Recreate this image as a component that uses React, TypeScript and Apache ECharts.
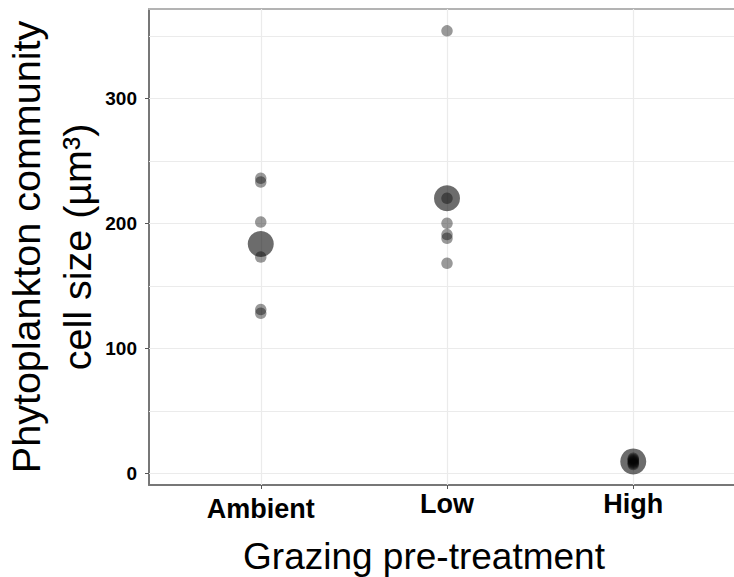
import React, { useEffect, useRef } from "react";
import * as echarts from "echarts";

// Data
const categories = ["Ambient", "Low", "High"];
const categoryPositions = [1, 2, 3];
const ambientValues = [236, 233, 201, 173, 131, 128];
const lowValues = [354, 220, 200, 191, 188, 168];
const highValues = [12, 11, 10, 9, 8, 7];
const meanValues = [183.5, 220, 9.5];
const yTickValues = [0, 100, 200, 300];
const yGridValues = [0, 50, 100, 150, 200, 250, 300, 350];

const xTitle = "Grazing pre-treatment";
const yTitle = "Phytoplankton community\ncell size (µm³)";

export default function App() {
  const ref = useRef<HTMLDivElement>(null);

  useEffect(() => {
    if (!ref.current) return;
    const chart = echarts.init(ref.current, undefined, { renderer: "svg" });

    const groups = [ambientValues, lowValues, highValues];
    const obsData: number[][] = [];
    groups.forEach((vals, i) => {
      vals.forEach((v) => obsData.push([categoryPositions[i], v]));
    });
    const meanData = meanValues.map((v, i) => [categoryPositions[i], v]);

    const gridLineData: any[] = [
      ...yGridValues.map((v) => ({ yAxis: v })),
      ...categoryPositions.map((v) => ({ xAxis: v })),
    ];

    const font = "Liberation Sans, Arial, Helvetica, sans-serif";

    chart.setOption({
      animation: false,
      grid: {
        show: false,
        left: 149,
        top: 9,
        width: 596,
        height: 476,
        outerBoundsMode: "none",
        containLabel: false,
      },
      xAxis: [
        {
          type: "value",
          min: 0.4,
          max: 3.6,
          position: "bottom",
          axisLine: { show: true, onZero: false, lineStyle: { color: "#777777", width: 2 } },
          axisTick: {
            show: true,
            customValues: categoryPositions,
            length: 4,
            lineStyle: { color: "#555555", width: 1 },
          },
          axisLabel: {
            customValues: categoryPositions,
            margin: 5,
            color: "#000000",
            fontFamily: font,
            fontWeight: "bold",
            fontSize: 27,
            formatter: (v: number) => {
              const idx = categoryPositions.indexOf(Math.round(v));
              const name = idx >= 0 ? categories[idx] : "";
              return idx === 0 ? "{low|" + name + "}" : "{n|" + name + "}";
            },
            rich: {
              low: { fontFamily: font, fontWeight: "bold", fontSize: 27, color: "#000", padding: [5, 0, 0, 0] },
              n: { fontFamily: font, fontWeight: "bold", fontSize: 27, color: "#000" },
            },
          },
          splitLine: { show: false },
        },
        {
          type: "value",
          min: 0.4,
          max: 3.6,
          position: "top",
          axisLine: { show: true, onZero: false, lineStyle: { color: "#b3b3b3", width: 2 } },
          axisTick: { show: false },
          axisLabel: { show: false },
          splitLine: { show: false },
        },
      ],
      yAxis: {
        type: "value",
        min: -9.4,
        max: 371.5,
        axisLine: { show: true, onZero: false, lineStyle: { color: "#777777", width: 2 } },
        axisTick: {
          show: true,
          customValues: yTickValues,
          length: 4,
          lineStyle: { color: "#555555", width: 1 },
        },
        axisLabel: {
          customValues: yTickValues,
          margin: 12,
          color: "#000000",
          fontFamily: font,
          fontWeight: "bold",
          fontSize: 19,
        },
        splitLine: { show: false },
      },
      graphic: [
        {
          type: "text",
          x: 424,
          y: 556,
          style: {
            text: xTitle,
            fontFamily: font,
            fontSize: 37,
            fill: "#000000",
            textAlign: "center",
            textVerticalAlign: "middle",
          },
        },
        {
          type: "text",
          x: 51,
          y: 247,
          rotation: Math.PI / 2,
          style: {
            text: yTitle,
            fontFamily: font,
            fontSize: 39.5,
            lineHeight: 51,
            fill: "#000000",
            textAlign: "center",
            textVerticalAlign: "middle",
          },
        },
      ],
      series: [
        {
          name: "observations",
          type: "scatter",
          xAxisIndex: 0,
          data: obsData,
          symbol: "circle",
          symbolSize: 11.5,
          itemStyle: { color: "rgba(0,0,0,0.5)" },
          z: 2,
          markLine: {
            silent: true,
            z: 1,
            symbol: ["none", "none"],
            label: { show: false },
            lineStyle: { color: "#ebebeb", width: 1.2, type: "solid" },
            emphasis: { disabled: true },
            data: gridLineData,
          },
        },
        {
          name: "mean",
          type: "scatter",
          xAxisIndex: 0,
          data: meanData,
          symbol: "circle",
          symbolSize: 26,
          itemStyle: { color: "rgba(0,0,0,0.72)" },
          z: 3,
        },
      ],
    });

    return () => chart.dispose();
  }, []);

  return (
    <div
      ref={ref}
      style={{ position: "fixed", left: 0, top: 0, width: 734, height: 577, background: "#ffffff" }}
    />
  );
}
